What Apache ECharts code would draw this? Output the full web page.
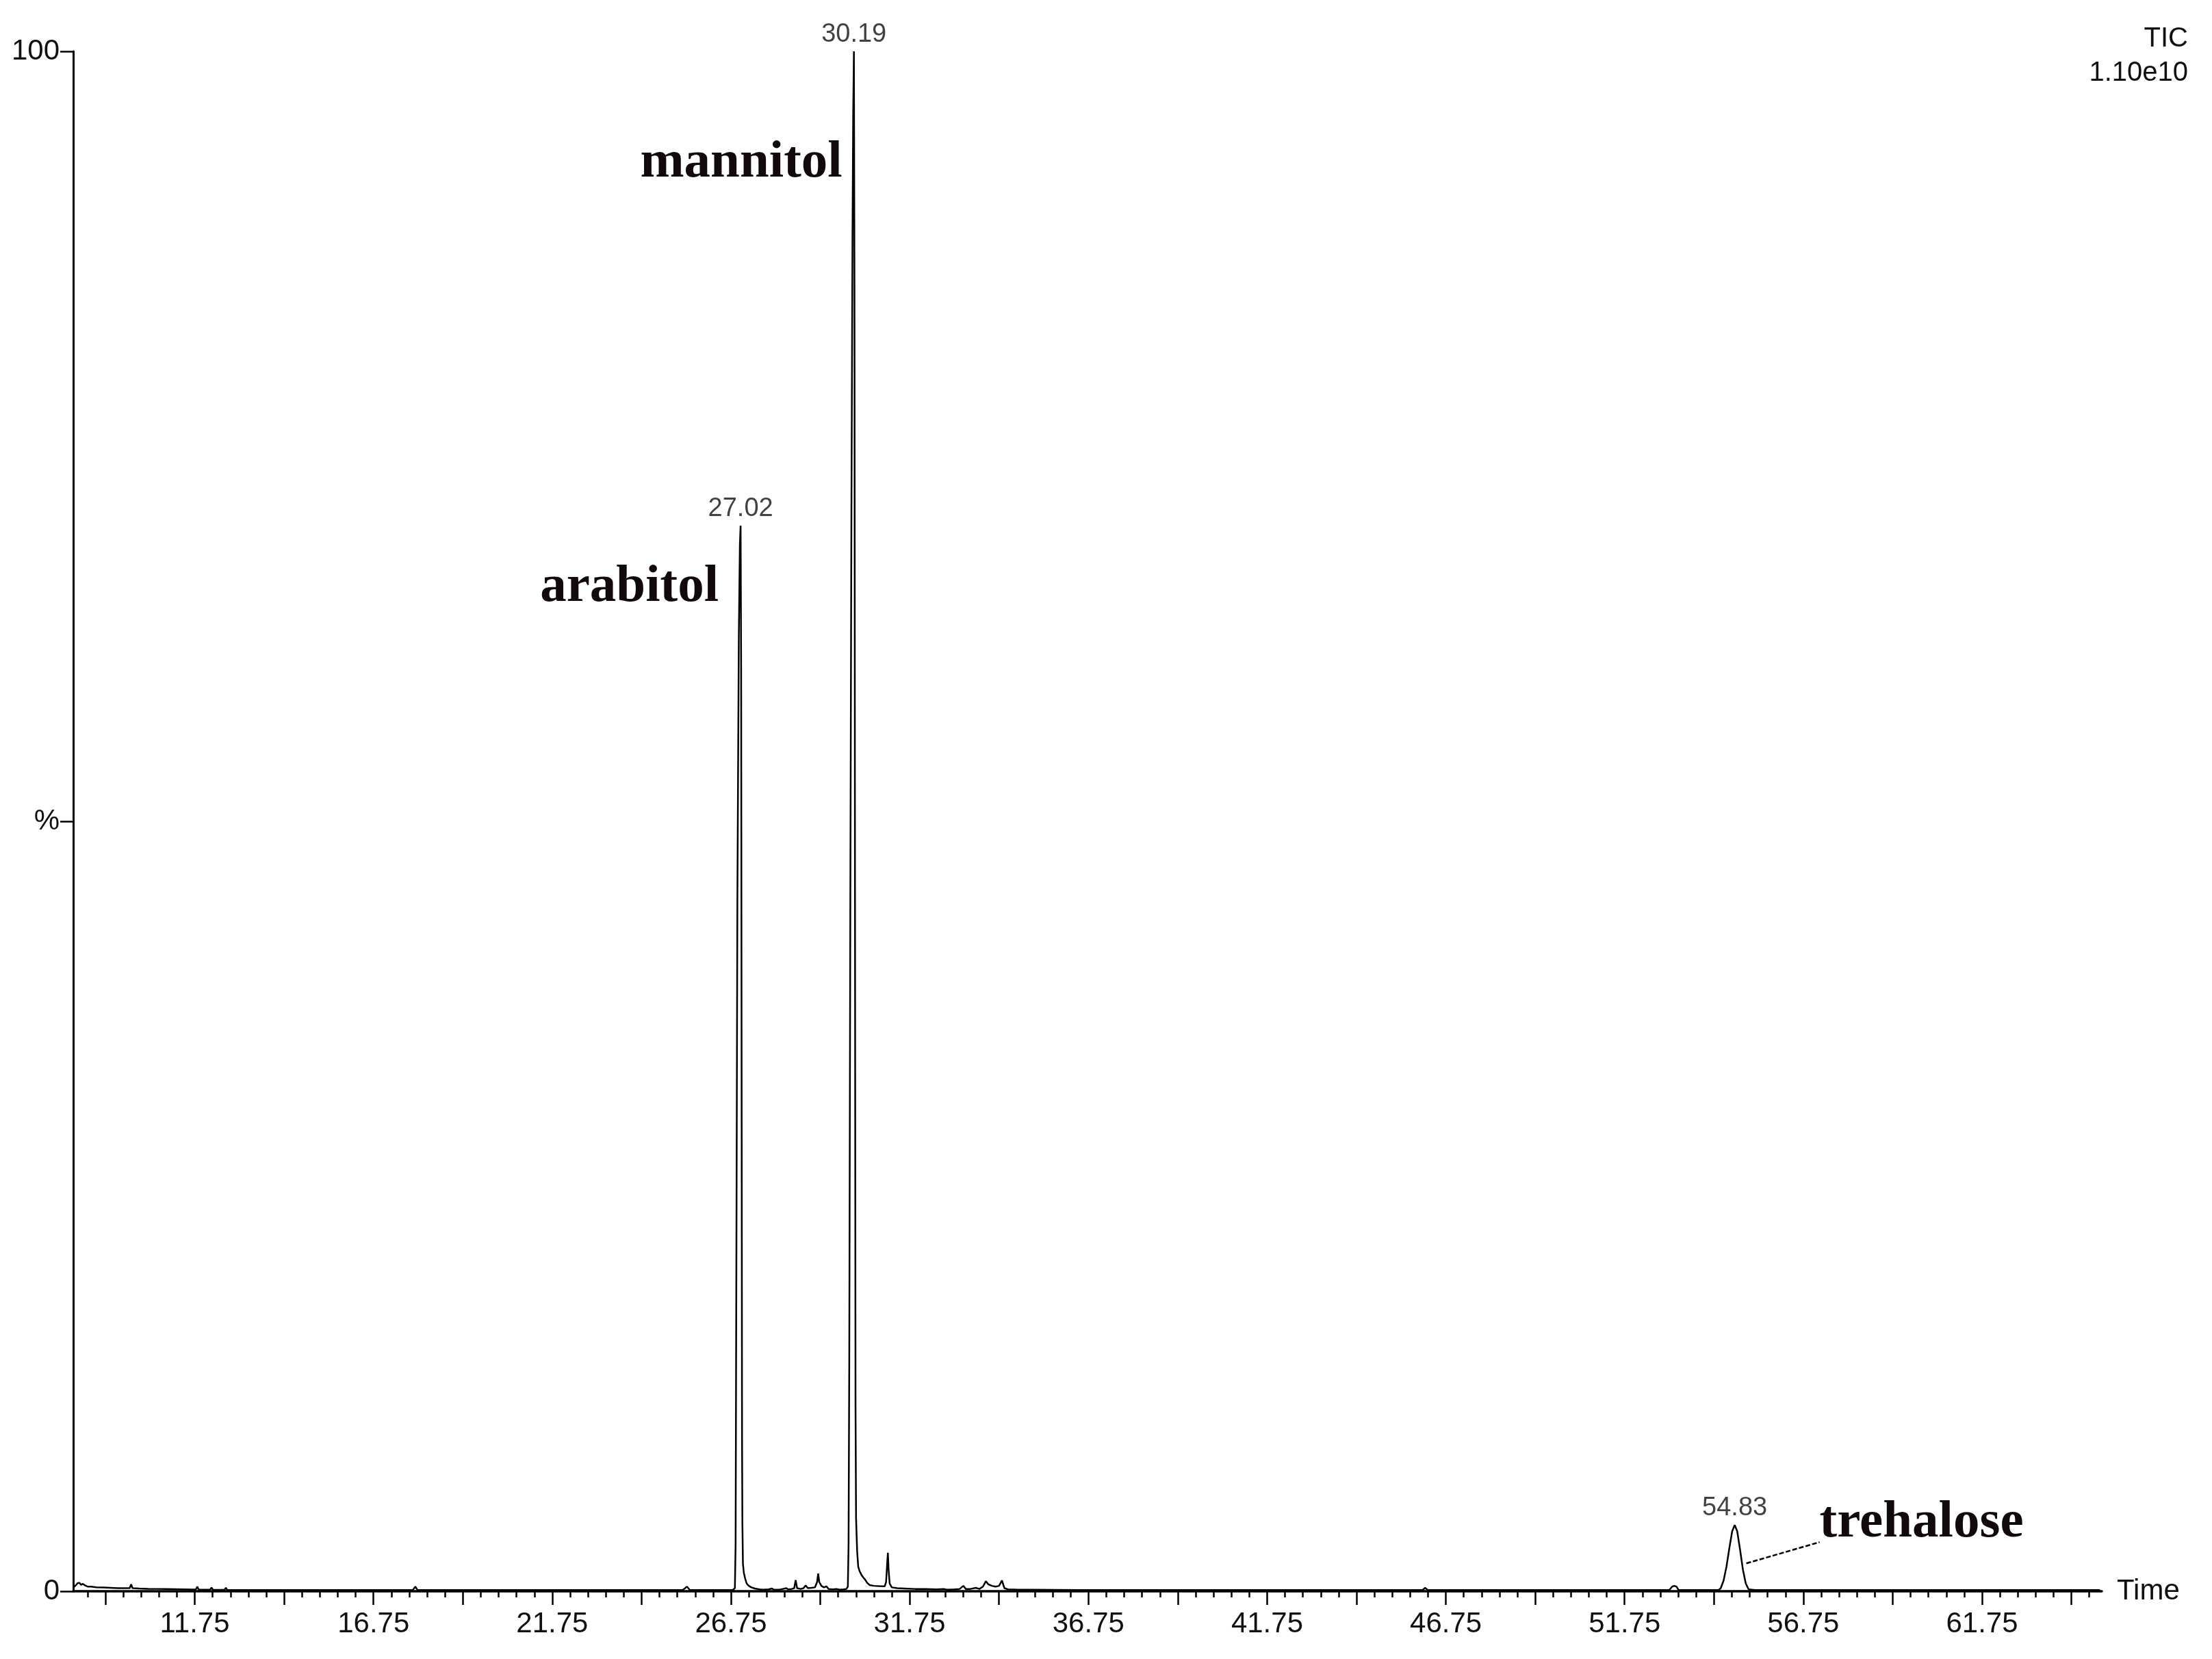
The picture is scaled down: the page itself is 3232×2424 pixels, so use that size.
<!DOCTYPE html>
<html>
<head>
<meta charset="utf-8">
<script src="https://cdn.jsdelivr.net/npm/echarts@6/dist/echarts.min.js"></script>
<style>
html,body{margin:0;padding:0;background:#fff;}
#chart{width:3232px;height:2424px;}
</style>
</head>
<body>
<div id="chart"></div>
<script>
// ---- data (time in min, relative abundance in %) ----
const tracePre = [
  [8.36,0.25],[8.42,0.38],[8.47,0.52],[8.52,0.55],[8.57,0.42],[8.62,0.48],[8.68,0.38],[8.75,0.3],
  [8.85,0.3],[9.0,0.26],[9.2,0.24],[9.4,0.22],[9.6,0.2],[9.85,0.2],[9.93,0.2],[9.97,0.45],[10.01,0.2],
  [10.2,0.18],[10.45,0.16],[10.7,0.15],[10.95,0.14],[11.2,0.13],[11.45,0.12],[11.7,0.11],[11.78,0.11],
  [11.82,0.3],[11.86,0.1],[12.05,0.1],[12.18,0.1],[12.22,0.24],[12.26,0.09],[12.45,0.09],[12.58,0.09],
  [12.62,0.22],[12.66,0.08],[12.9,0.08],[13.3,0.08],[13.8,0.08],[15.0,0.08],[16.5,0.08],[17.85,0.08],
  [17.92,0.3],[17.98,0.08],[19.5,0.08],[21.5,0.08],[23.5,0.08],[25.4,0.08],[25.52,0.3],[25.6,0.08],
  [26.3,0.08],[26.8,0.08]
];
const arabitolPeak = [
  [26.86,0.2],[26.88,3],[26.90,20],[26.93,45],[26.97,62],[27.00,68],[27.02,69.2],[27.035,60],
  [27.05,30],[27.06,10],[27.07,4.4],[27.085,1.8],[27.11,1.2],[27.15,0.8],[27.19,0.5],[27.25,0.35],
  [27.32,0.25],[27.42,0.18],[27.55,0.12]
];
const interPeak = [
  [27.65,0.1],[27.8,0.12],[27.9,0.18],[27.95,0.1],[28.1,0.1],[28.2,0.15],[28.3,0.2],[28.35,0.12],
  [28.45,0.15],[28.52,0.2],[28.56,0.72],[28.6,0.2],[28.7,0.15],[28.78,0.2],[28.84,0.38],[28.9,0.2],
  [29.0,0.22],[29.1,0.25],[29.16,0.6],[29.19,1.15],[29.22,0.6],[29.28,0.35],[29.35,0.25],[29.42,0.32],
  [29.48,0.15],[29.6,0.12],[29.7,0.15],[29.8,0.1],[29.9,0.12],[29.98,0.15]
];
const mannitolPeak = [
  [30.02,0.3],[30.04,3],[30.06,15],[30.09,45],[30.12,70],[30.15,88],[30.17,96],[30.19,100],
  [30.205,85],[30.22,45],[30.235,12],[30.25,4.75],[30.28,2.6],[30.31,1.6],[30.35,1.3],[30.40,1.07],
  [30.45,0.9],[30.50,0.76],[30.56,0.55],[30.63,0.4],[30.75,0.35],[30.9,0.33],[31.05,0.32],[31.09,0.6],
  [31.12,1.8],[31.14,2.5],[31.16,1.4],[31.19,0.5],[31.25,0.25],[31.4,0.2]
];
const postPeak = [
  [31.6,0.18],[31.9,0.15],[32.2,0.15],[32.5,0.12],[32.7,0.15],[32.8,0.1],[33.0,0.12],[33.15,0.15],
  [33.25,0.35],[33.32,0.15],[33.45,0.15],[33.6,0.22],[33.7,0.15],[33.8,0.3],[33.88,0.65],[33.95,0.45],
  [34.05,0.35],[34.15,0.3],[34.25,0.35],[34.33,0.7],[34.4,0.2],[34.5,0.12],[34.8,0.1],[35.2,0.1],
  [35.8,0.09],[36.5,0.08],[38,0.08],[40,0.08],[42,0.08],[44,0.08],[46.1,0.08],[46.17,0.22],[46.24,0.08],
  [48,0.08],[50,0.08],[52,0.08],[53.0,0.08],[53.08,0.3],[53.14,0.35],[53.2,0.3],[53.26,0.08],[54.0,0.08],
  [54.38,0.08]
];
const trehalosePeak = [
  [54.44,0.2],[54.52,0.7],[54.60,1.6],[54.68,2.8],[54.76,3.9],[54.83,4.3],[54.90,3.9],[54.98,2.7],
  [55.06,1.4],[55.14,0.5],[55.22,0.12],[55.4,0.08],[57,0.08],[59,0.08],[61,0.08],[63,0.08],[65.05,0.08]
];
const peakTimes = [27.02, 30.19, 54.83];
const peakHeights = [69.2, 100, 4.3];
const compoundNames = ['arabitol', 'mannitol', 'trehalose'];
const xLabelValues = [11.75, 16.75, 21.75, 26.75, 31.75, 36.75, 41.75, 46.75, 51.75, 56.75, 61.75];
const majorTickValues = [9.25,11.75,14.25,16.75,19.25,21.75,24.25,26.75,29.25,31.75,34.25,36.75,39.25,41.75,44.25,46.75,49.25,51.75,54.25,56.75,59.25,61.75,64.25];
const xMin = 8.35, xMax = 65.1;
const traceName = 'TIC';
const traceScale = '1.10e10';

// build minor tick list (every 0.5 min)
const minorTickValues = [];
for (let v = 8.75; v <= 64.8; v += 0.5) minorTickValues.push(Math.round(v * 100) / 100);

const trace = [].concat(tracePre, arabitolPeak, interPeak, mannitolPeak, postPeak, trehalosePeak);

const sansFont = '"Liberation Sans", Arial, Helvetica, sans-serif';
const serifFont = '"Liberation Serif", "Times New Roman", serif';
const textColor = '#111111';

const chart = echarts.init(document.getElementById('chart'), null, {renderer: 'canvas'});

const option = {
  backgroundColor: '#ffffff',
  animation: false,
  grid: {left: 107, right: 161, top: 75, bottom: 99, containLabel: false},
  xAxis: [
    {
      type: 'value', min: xMin, max: xMax,
      name: 'Time', nameLocation: 'end', nameGap: 22,
      nameTextStyle: {fontFamily: sansFont, fontSize: 42, color: textColor, verticalAlign: 'middle', align: 'left', padding: [8, 0, 0, 0]},
      axisLine: {show: true, onZero: false, lineStyle: {color: '#000', width: 3.5}},
      axisTick: {show: true, customValues: majorTickValues, length: 20, inside: false, lineStyle: {color: '#000', width: 2.5}},
      axisLabel: {customValues: xLabelValues, margin: 27, fontFamily: sansFont, fontSize: 42, color: textColor,
        formatter: v => v.toFixed(2)},
      splitLine: {show: false}
    },
    {
      type: 'value', min: xMin, max: xMax, position: 'bottom',
      axisLine: {show: false},
      axisTick: {show: true, customValues: minorTickValues, length: 9, inside: false, lineStyle: {color: '#000', width: 2.5}},
      axisLabel: {show: false},
      splitLine: {show: false}
    }
  ],
  yAxis: {
    type: 'value', min: 0, max: 100, interval: 50,
    axisLine: {show: true, onZero: false, lineStyle: {color: '#000', width: 3}},
    axisTick: {show: true, length: 19, inside: false, lineStyle: {color: '#000', width: 2.5}},
    axisLabel: {margin: 20, fontFamily: sansFont, fontSize: 42, color: textColor,
      formatter: v => (v === 50 ? '%' : String(v))},
    splitLine: {show: false}
  },
  series: [
    {
      name: traceName, type: 'line', xAxisIndex: 0, yAxisIndex: 0,
      data: trace, showSymbol: false, symbol: 'none', smooth: false,
      lineStyle: {color: '#000', width: 2.5}, clip: false, z: 3
    },
    {
      name: 'peak labels', type: 'scatter', xAxisIndex: 0, yAxisIndex: 0,
      data: peakTimes.map((t, i) => [t, peakHeights[i]]),
      symbolSize: 1, itemStyle: {color: 'rgba(0,0,0,0)'},
      label: {show: true, position: 'top', distance: 5, fontFamily: sansFont, fontSize: 38, color: textColor,
        formatter: p => p.value[0].toFixed(2)},
      z: 4
    }
  ]
};
chart.setOption(option);

// annotations anchored on the peaks
const px = peakTimes.map((t, i) => chart.convertToPixel({gridIndex: 0}, [t, peakHeights[i]]));
const nameStyle = {fontFamily: serifFont, fontWeight: 'bold', fontSize: 77, fill: '#120a0a'};
chart.setOption({
  graphic: [
    {type: 'text', style: Object.assign({text: compoundNames[0], x: px[0][0] - 32, y: px[0][1] + 90, align: 'right', verticalAlign: 'middle'}, nameStyle)},
    {type: 'text', style: Object.assign({text: compoundNames[1], x: px[1][0] - 17, y: px[1][1] + 163, align: 'right', verticalAlign: 'middle'}, nameStyle)},
    {type: 'text', style: Object.assign({text: compoundNames[2], x: px[2][0] + 124, y: px[2][1] - 3, align: 'left', verticalAlign: 'middle'}, nameStyle)},
    {type: 'line', shape: {x1: px[2][0] + 17, y1: px[2][1] + 56, x2: px[2][0] + 124, y2: px[2][1] + 25},
      style: {stroke: '#000', lineWidth: 2.5, lineDash: [7, 3]}},
    {type: 'text', style: {text: traceName, x: 3197, y: 57, align: 'right', verticalAlign: 'middle', fontFamily: sansFont, fontSize: 40, fill: textColor}},
    {type: 'text', style: {text: traceScale, x: 3197, y: 107, align: 'right', verticalAlign: 'middle', fontFamily: sansFont, fontSize: 40, fill: textColor}}
  ]
});
</script>
</body>
</html>
